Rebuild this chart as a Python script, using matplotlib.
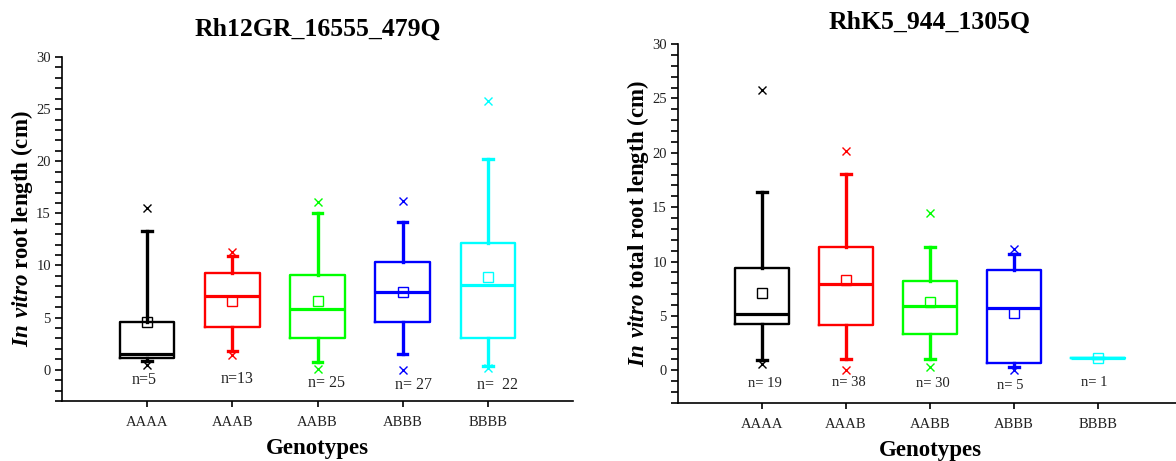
import numpy as np
import matplotlib
matplotlib.use('Agg')
import matplotlib.pyplot as plt
from matplotlib.ticker import MultipleLocator

plt.rcParams['font.family'] = ['Liberation Serif', 'DejaVu Serif']
plt.rcParams['mathtext.fontset'] = 'custom'
plt.rcParams['mathtext.rm'] = 'Liberation Serif'
plt.rcParams['mathtext.bf'] = 'Liberation Serif:bold'
plt.rcParams['mathtext.bfit'] = 'Liberation Serif:italic:bold'

# genotype classes
genotypes = ['AAAA', 'AAAB', 'AABB', 'ABBB', 'BBBB']
colors = ['black', '#ff0000', '#00ff00', '#0000ff', '#00ffff']

# Rh12GR_16555_479Q (in vitro root length)
rh12_q1 = [1.1, 4.1, 3.0, 4.6, 3.0]
rh12_med = [1.5, 7.1, 5.85, 7.45, 8.1]
rh12_q3 = [4.6, 9.3, 9.05, 10.35, 12.15]
rh12_whislo = [0.8, 1.8, 0.75, 1.5, 0.4]
rh12_whishi = [13.3, 10.9, 15.0, 14.15, 20.2]
rh12_mean = [4.6, 6.6, 6.6, 7.45, 8.9]
rh12_min = [0.5, 1.4, 0.1, 0.0, 0.15]
rh12_max = [15.5, 11.3, 16.1, 16.15, 25.8]
rh12_n = ['n=5', 'n=13', 'n= 25', 'n= 27', 'n=  22']

# RhK5_944_1305Q (in vitro total root length)
rhk5_q1 = [4.3, 4.2, 3.3, 0.7, 1.16]
rhk5_med = [5.2, 7.9, 5.9, 5.7, 1.16]
rhk5_q3 = [9.45, 11.3, 8.2, 9.25, 1.16]
rhk5_whislo = [0.95, 1.05, 1.05, 0.3, 1.16]
rhk5_whishi = [16.4, 18.05, 11.3, 10.7, 1.16]
rhk5_mean = [7.1, 8.35, 6.25, 5.3, 1.16]
rhk5_min = [0.6, 0.0, 0.3, 0.05, np.nan]
rhk5_max = [25.8, 20.2, 14.45, 11.15, np.nan]
rhk5_n = ['n= 19', 'n= 38', 'n= 30', 'n= 5', 'n= 1']

# small nudges of the n= labels as placed in the original
rh12_ndx = [-0.04, 0.06, 0.11, 0.13, 0.11]
rh12_ny = [-0.95, -0.9, -1.3, -1.45, -1.45]
rhk5_ndx = [0.04, 0.04, 0.03, -0.05, -0.04]
rhk5_ny = [-1.25, -1.15, -1.25, -1.4, -1.15]


def draw_panel(ax, q1, med, q3, wlo, whi, mean, vmin, vmax, nlab, ndx, ny,
               title, ylabel, title_pad, nsize):
    pos = np.arange(1, len(genotypes) + 1)
    stats = []
    for i in range(len(genotypes)):
        stats.append(dict(q1=q1[i], med=med[i], q3=q3[i], whislo=wlo[i],
                          whishi=whi[i], mean=mean[i], fliers=[]))
    bp = ax.bxp(stats, positions=pos, widths=0.64, capwidths=0.11,
                showmeans=True, showfliers=False)
    for i, c in enumerate(colors):
        bp['boxes'][i].set(color=c, linewidth=1.7)
        bp['medians'][i].set(color=c, linewidth=2.3)
        for k in (2 * i, 2 * i + 1):
            bp['whiskers'][k].set(color=c, linewidth=2.4, linestyle='-')
            bp['caps'][k].set(color=c, linewidth=2.4)
        bp['means'][i].set(marker='s', markerfacecolor='none',
                           markeredgecolor=c, markersize=6.5, markeredgewidth=1.0)
        ax.plot([pos[i], pos[i]], [vmin[i], vmax[i]], linestyle='none',
                marker='x', color=c, markersize=5.5, markeredgewidth=1.0)
        ax.text(pos[i] + ndx[i], ny[i], nlab[i], ha='center', va='center',
                fontsize=nsize, color='#222222')

    ax.set_xlim(0, 6)
    ax.set_ylim(-3, 30)
    ax.set_xticks(pos)
    ax.set_xticklabels(genotypes)
    ax.yaxis.set_major_locator(MultipleLocator(5))
    ax.yaxis.set_minor_locator(MultipleLocator(1))
    ax.tick_params(axis='x', which='major', length=4, width=1.2, pad=7,
                   labelsize=10.5, labelcolor='#222222')
    ax.tick_params(axis='x', which='minor', length=0)
    ax.tick_params(axis='y', which='both', length=5, width=1.2, pad=3,
                   labelsize=10.5, labelcolor='#222222')
    for s in ('top', 'right'):
        ax.spines[s].set_visible(False)
    for s in ('left', 'bottom'):
        ax.spines[s].set_linewidth(1.2)
    ax.set_title(title, fontsize=18.5, fontweight='bold', pad=title_pad)
    ax.set_xlabel('Genotypes', fontsize=16.5, fontweight='bold', labelpad=6)
    ax.set_ylabel(ylabel, fontsize=16.5, fontweight='bold', labelpad=1)


fig = plt.figure(figsize=(11.76, 4.61), dpi=100)
ax1 = fig.add_axes([62 / 1176, 60 / 461, 511 / 1176, 344 / 461])
ax2 = fig.add_axes([678 / 1176, 58 / 461, 504 / 1176, 359 / 461])

draw_panel(ax1, rh12_q1, rh12_med, rh12_q3, rh12_whislo, rh12_whishi,
           rh12_mean, rh12_min, rh12_max, rh12_n, rh12_ndx, rh12_ny,
           'Rh12GR_16555_479Q', r'$\mathbfit{In\ vitro}$ root length (cm)',
           15, 11.5)
draw_panel(ax2, rhk5_q1, rhk5_med, rhk5_q3, rhk5_whislo, rhk5_whishi,
           rhk5_mean, rhk5_min, rhk5_max, rhk5_n, rhk5_ndx, rhk5_ny,
           'RhK5_944_1305Q', r'$\mathbfit{In\ vitro}$ total root length (cm)',
           11, 10.5)

fig.savefig('out.png', dpi=100)
